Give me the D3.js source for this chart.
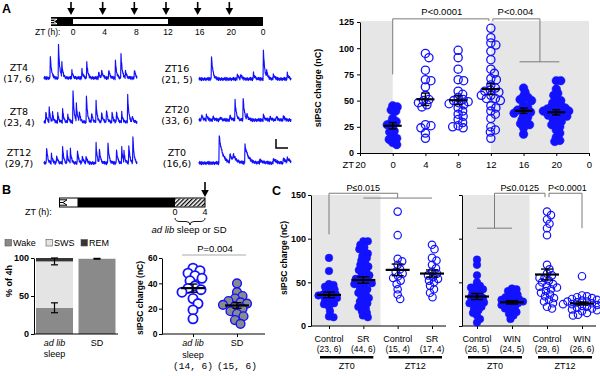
<!DOCTYPE html>
<html lang="en">
<head>
<meta charset="UTF-8">
<title>sIPSC charge across the day</title>
<script src="https://d3js.org/d3.v7.min.js"></script>
<style>
  body { margin: 0; background: #fff; }
  svg { display: block; font-family: "Liberation Sans", Arial, sans-serif; }
  .trace { fill: none; stroke: #1010ff; stroke-width: 1.15px; stroke-linejoin: round; }
  .bracket { fill: none; stroke: #7a7a7a; stroke-width: 1px; }
</style>
</head>
<body>
<svg id="fig" width="600" height="376"></svg>
<script>
// ---------------- data ----------------
// light/dark bar of panel A
const dayTicks = [0, 4, 8, 12, 16, 20, 24];
const dayTickLabels = ["0", "4", "8", "12", "16", "20", "0"];
const recHours = [0, 4, 8, 12, 16, 20];

// example traces: events as [time (0-100), amplitude], decay constant per trace
const traceNames = ["ZT4", "ZT8", "ZT12", "ZT16", "ZT20", "ZT0"];
const traceN = ["(17, 6)", "(23, 4)", "(29,7)", "(21, 5)", "(33, 6)", "(16,6)"];
const traceTau = [1.3, 1.2, 1.2, 1.5, 1.5, 3.5];
const traceEvents = [
  [[6.5,28],[15.5,35],[19,15],[30,7],[40.6,10],[46,15],[58.6,7],[62,8],[69.4,10],[76.6,20],[82.7,25],[87.4,8],[97,10]],
  [[1.8,12],[5.5,15],[9,10],[14.5,11],[20,13],[25.5,8],[31,37],[34.5,22],[38,10],[45.5,28],[51,11],[56,20],[62,10],[67,15],[73,11],[78,11],[83.6,9],[90,27],[94.5,8]],
  [[2.6,19],[8,9],[13.6,8],[20,16],[24.6,13],[28.3,14],[35.7,16],[41,9],[45,8],[56,19],[59.6,14],[68.8,21],[78,14],[83.5,16],[86,10],[91,21],[95.6,26]],
  [[13.5,25],[41.5,5],[45,5],[59,7],[70,28],[73.5,6],[80.7,5],[96,6]],
  [[2.5,7],[8,5],[15,4],[22.5,4],[33.5,5],[39,22],[48,22],[52,5],[70,5],[77,4],[84,4],[91.6,4]],
  [[21.8,29],[33.5,8],[37,6],[49.8,19],[66,3],[80.7,4],[91.6,4],[96,4]]
];
const traceNoise = [0.9,-0.6,1.2,-1.0,0.3,-0.4,1.1,-1.3,0.5,-0.2,0.8,-0.9,0.1,-1.1,0.7,-0.3,1.0,-0.7,0.4,-1.2,0.6,-0.5,0.2];

// panel A scatter
const ztAxisTicks = [-4, 0, 4, 8, 12, 16, 20, 24];
const ztAxisLabels = ["20", "0", "4", "8", "12", "16", "20", "0"];
const groupHoursA = [0, 4, 8, 12, 16, 20];
const filledA = [true, false, false, false, true, true];
const valuesA = [
  [45,44,41,40,33,30,29,27,25,21,20,16,14,13,10,8],
  [95,91,79,70,69,63,55,51,50,48,46,27,26,24,19,14,44],
  [98,91,80,70,69,59,56,53,51,50,49,48,47,46,43,40,37,35,32,29,26,24,25],
  [119,110,105,103,97,89,80,76,71,70,60,58,55,52,65,62,59,55,52,50,45,43,40,37,33,25,22,14,20],
  [62,58,54,53,51,50,46,44,42,41,40,39,38,36,34,32,30,28,27,24,18],
  [69,69,61,57,55,51,50,48,46,45,44,43,42,42,41,40,40,39,38,37,36,35,33,32,30,28,27,25,22,19,15,12,11]
];

// panel B
const sleepKeys = ["Wake", "SWS", "REM"];
const sleepGroups = ["ad lib", "SD"];
const wakePct = [34.5, 99];
const swsPct = [61, 1];
const remPct = [4.5, 0];
const wakeErr = [6.5, 0.5];
const sleepTopErr = [4.5, 0];
const adLibVals = [52,50,48,46,44,42,38,36,35,33,28,24,19,12];
const sdVals = [40,33,30,28,26,25,24,23,22,20,18,16,14,11,8];
const bNLabels = ["(14, 6)", "(15, 6)"];

// panel C
const cTimes = ["ZT0", "ZT12"];
const cLeftCats = ["Control", "SR", "Control", "SR"];
const cLeftN = ["(23, 6)", "(44, 6)", "(15, 4)", "(17, 4)"];
const cLeftFilled = [true, true, false, false];
const cLeftValues = [
  [78,63,48,47,45,43,42,40,38,37,36,35,34,33,32,30,28,26,25,22,17,11,10],
  [97,97,93,90,88,85,83,80,78,75,72,70,68,66,64,62,60,58,56,55,54,52,51,50,49,48,46,44,42,40,38,36,34,32,30,28,26,24,22,20,17,15,12,10],
  [131,104,77,74,70,65,62,60,57,55,52,48,42,36,31],
  [93,88,78,75,70,66,62,60,58,56,54,52,50,46,42,38,33]
];
const cRightCats = ["Control", "WIN", "Control", "WIN"];
const cRightN = ["(26, 5)", "(24, 5)", "(29, 6)", "(26, 6)"];
const cRightFilled = [true, true, false, false];
const cRightValues = [
  [76,70,58,50,46,44,45,42,40,38,36,34,33,32,30,28,27,26,24,22,20,18,15,12,8,4],
  [43,42,40,38,36,34,33,32,31,30,29,28,27,26,25,24,23,22,20,18,16,14,12,8],
  [131,127,122,117,112,104,70,65,60,55,58,55,52,50,48,46,45,44,42,40,38,36,34,32,30,28,26,22,20],
  [57,35,34,33,32,31,30,29,28,28,27,27,26,25,25,24,23,22,21,20,19,18,17,15,13,12]
];

// ---------------- helpers ----------------
const svg = d3.select("#fig");
const BLUE = "#1212ff";
const GRAY_BG = "#e6e6e6";

function txt(g, x, y, s, o = {}) {
  const t = g.append("text").attr("x", x).attr("y", y).text(s)
    .attr("font-size", o.size || 9)
    .attr("text-anchor", o.anchor || "middle");
  if (o.weight) t.attr("font-weight", o.weight);
  if (o.family) t.attr("font-family", o.family);
  if (o.style) t.attr("font-style", o.style);
  return t;
}

function vTitle(g, x, y, s, size) {
  g.append("text").attr("transform", `translate(${x},${y}) rotate(-90)`)
    .attr("text-anchor", "middle").attr("font-size", size).attr("font-weight", "bold").text(s);
}

function styleAxis(g, size, weight) {
  g.attr("font-family", null).attr("font-size", size).attr("font-weight", weight || null);
  g.selectAll("line, path").attr("stroke", "#000");
}

// simple beeswarm: returns x offsets
function swarm(vals, y, dist) {
  const order = d3.range(vals.length).sort((a, b) => vals[b] - vals[a]);
  const placed = [], xs = [];
  order.forEach(i => {
    const yi = y(vals[i]);
    let off = 0;
    for (let k = 0; k < 400; k++) {
      const c = (k % 2 ? 1 : -1) * Math.ceil(k / 2) * 0.5;
      if (placed.every(p => (p.x - c) ** 2 + (p.y - yi) ** 2 >= dist * dist)) { off = c; break; }
    }
    placed.push({x: off, y: yi});
    xs[i] = off;
  });
  return xs;
}

function dots(g, vals, cx, y, o) {
  const offs = swarm(vals, y, o.dist);
  g.append("g").selectAll("circle").data(vals).join("circle")
    .attr("cx", (d, i) => cx + offs[i]).attr("cy", d => y(d)).attr("r", o.r)
    .attr("fill", o.fill).attr("stroke", o.stroke).attr("stroke-width", o.sw);
}

function meanSem(g, vals, cx, y, half, cap) {
  const m = d3.mean(vals), s = d3.deviation(vals) / Math.sqrt(vals.length);
  const e = g.append("g").attr("stroke", "#000");
  e.append("line").attr("x1", cx).attr("x2", cx).attr("y1", y(m - s)).attr("y2", y(m + s)).attr("stroke-width", 1.4);
  [m - s, m + s].forEach(v => e.append("line").attr("x1", cx - cap).attr("x2", cx + cap)
    .attr("y1", y(v)).attr("y2", y(v)).attr("stroke-width", 1.4));
  e.append("line").attr("x1", cx - half).attr("x2", cx + half).attr("y1", y(m)).attr("y2", y(m)).attr("stroke-width", 2.2);
}

function arrow(g, x, y0, y1) {
  g.append("line").attr("x1", x).attr("x2", x).attr("y1", y0).attr("y2", y1 - 5).attr("stroke", "#000").attr("stroke-width", 1.6);
  g.append("path").attr("d", `M${x - 3.8},${y1 - 7}L${x + 3.8},${y1 - 7}L${x},${y1}Z`).attr("fill", "#000");
}

// panel letters
txt(svg, 2, 13, "A", {size: 12.5, weight: "bold", anchor: "start"});
txt(svg, 2, 194, "B", {size: 12.5, weight: "bold", anchor: "start"});
txt(svg, 272, 195, "C", {size: 12.5, weight: "bold", anchor: "start"});

// ---------------- panel A: light/dark bar ----------------
const xDay = d3.scaleLinear().domain([0, 24]).range([73, 263]);
const gBar = svg.append("g");
gBar.append("rect").attr("x", 51).attr("y", 17).attr("width", xDay(24) - 51).attr("height", 9).attr("fill", "#000");
gBar.append("rect").attr("x", xDay(0)).attr("y", 19).attr("width", xDay(12) - xDay(0)).attr("height", 5).attr("fill", "#fff");
gBar.append("path").attr("d", "M51,19.2H57L53.5,21.5L57,23.8H51M51,21.5H53.5").attr("fill", "none").attr("stroke", "#fff").attr("stroke-width", 1);
recHours.forEach(h => arrow(gBar, xDay(h) - 2, 2, 15));
dayTicks.forEach((h, i) => txt(gBar, xDay(h), 35, dayTickLabels[i], {size: 8.5}));
txt(gBar, 35, 35, "ZT (h):", {size: 8.5, anchor: "start"});

// ---------------- panel A: traces ----------------
const traceBase = [[78, 122, 163], [79, 120, 163]];
const tGrid = d3.range(0, 100.01, 0.4);
traceEvents.forEach((evs, i) => {
  const col = i < 3 ? 0 : 1, row = i % 3;
  const xT = d3.scaleLinear().domain([0, 100]).range(col ? [199, 291] : [44, 137]);
  const base = traceBase[col][row];
  const yT = d3.scaleLinear().domain([0, 40]).range([base, base - 40]);
  const pts = tGrid.map((t, k) => {
    let v = 1.3 * traceNoise[k % traceNoise.length];
    evs.forEach(([t0, a]) => { if (t >= t0) v += a * Math.exp(-(t - t0) / traceTau[i]); });
    return [t, v];
  });
  svg.append("path").attr("class", "trace")
    .attr("d", d3.line().x(d => xT(d[0])).y(d => yT(d[1]))(pts));
  const lx = col ? 177 : 19;
  txt(svg, lx, base - 7, traceNames[i], {size: 9.5, family: "DejaVu Sans, Verdana, sans-serif"});
  txt(svg, lx, base + 4, traceN[i], {size: 9.5, family: "DejaVu Sans, Verdana, sans-serif"});
});
// scale bar
svg.append("path").attr("d", "M276,139V148H288").attr("fill", "none").attr("stroke", "#000").attr("stroke-width", 1.5);

// ---------------- panel A: scatter ----------------
const xA = d3.scaleLinear().domain([-4, 24]).range([360, 589]);
const yA = d3.scaleLinear().domain([0, 125]).range([153, 22]);
const gA = svg.append("g");
[[-4, 0], [12, 24]].forEach(([a, b]) => gA.append("rect")
  .attr("x", xA(a)).attr("y", yA(126)).attr("width", xA(b) - xA(a)).attr("height", yA(0) - yA(126)).attr("fill", GRAY_BG));

gA.append("g").attr("transform", `translate(${xA(-4)},0)`)
  .call(d3.axisLeft(yA).tickValues([0, 25, 50, 75, 100, 125]).tickSize(3).tickPadding(3).tickSizeOuter(0))
  .call(g => styleAxis(g, 9, "bold"));
gA.append("g").attr("transform", `translate(0,${yA(0)})`)
  .call(d3.axisBottom(xA).tickValues(ztAxisTicks).tickFormat((d, i) => ztAxisLabels[i]).tickSize(3).tickPadding(5).tickSizeOuter(0))
  .call(g => styleAxis(g, 9.5));
txt(gA, xA(-4) - 6, 168, "ZT", {size: 9.5, anchor: "end"});
vTitle(gA, 321, 88, "sIPSC charge (nC)", 9);

// brackets
gA.append("path").attr("class", "bracket")
  .attr("d", `M${xA(0)},${yA(75)}V${yA(128)}H${xA(12) - 2}V${yA(126)}`);
gA.append("path").attr("class", "bracket")
  .attr("d", `M${xA(12) + 2},${yA(126)}V${yA(128)}H${xA(18)}V${yA(87)}M${xA(16) - 4},${yA(87)}H${xA(20) + 3}`);
txt(gA, (xA(0) + xA(12)) / 2, 15, "P<0.0001", {size: 9.5});
txt(gA, (xA(12) + xA(18)) / 2, 15, "P<0.004", {size: 9.5});

valuesA.forEach((vals, i) => {
  dots(gA, vals, xA(groupHoursA[i]), yA, filledA[i]
    ? {r: 4.3, dist: 4.4, fill: BLUE, stroke: BLUE, sw: 0.5}
    : {r: 4.1, dist: 5.2, fill: "none", stroke: BLUE, sw: 1.3});
});
valuesA.forEach((vals, i) => meanSem(gA, vals, xA(groupHoursA[i]), yA, 9, 4));

// ---------------- panel B: bar + timeline ----------------
const xDayB = d3.scaleLinear().domain([0, 4]).range([175, 205]);
const gBt = svg.append("g");
const defs = svg.append("defs");
defs.append("pattern").attr("id", "hatch").attr("width", 3).attr("height", 3)
  .attr("patternUnits", "userSpaceOnUse").attr("patternTransform", "rotate(45)")
  .append("rect").attr("width", 1.3).attr("height", 3).attr("fill", "#000");
gBt.append("rect").attr("x", xDayB(-15.4)).attr("y", 198).attr("width", xDayB(4) - xDayB(-15.4)).attr("height", 9)
  .attr("fill", "#fff").attr("stroke", "#000").attr("stroke-width", 1);
gBt.append("rect").attr("x", xDayB(-13)).attr("y", 198).attr("width", xDayB(0) - xDayB(-13)).attr("height", 9).attr("fill", "#000");
gBt.append("rect").attr("x", xDayB(0)).attr("y", 198.5).attr("width", xDayB(4) - xDayB(0)).attr("height", 8).attr("fill", "url(#hatch)");
gBt.append("path").attr("d", "M59,199.8H67L63,202.5L67,205.2H59M59,202.5H63").attr("fill", "none").attr("stroke", "#000").attr("stroke-width", 1);
arrow(gBt, xDayB(4), 182, 197);
txt(gBt, 25, 215, "ZT (h):", {size: 9, anchor: "start"});
[0, 4].forEach(h => txt(gBt, xDayB(h), 215, String(h), {size: 9}));
gBt.append("path").attr("fill", "none").attr("stroke", "#000").attr("stroke-width", 0.9)
  .attr("d", `M${xDayB(0)},218Q${xDayB(0)},221.5 ${xDayB(0) + 5},221.5H${xDayB(2) - 4}Q${xDayB(2)},221.5 ${xDayB(2)},225Q${xDayB(2)},221.5 ${xDayB(2) + 4},221.5H${xDayB(4) - 5}Q${xDayB(4)},221.5 ${xDayB(4)},218`);
const cap = gBt.append("text").attr("x", 189).attr("y", 233).attr("text-anchor", "middle").attr("font-size", 9.5);
cap.append("tspan").attr("font-style", "italic").text("ad lib");
cap.append("tspan").text(" sleep or SD");

// ---------------- panel B: stacked bars ----------------
const gB1 = svg.append("g");
const xB1 = d3.scalePoint().domain(sleepGroups).range([54.5, 97]);
const yB1 = d3.scaleLinear().domain([0, 100]).range([334, 258]);
const sleepColor = d3.scaleOrdinal().domain(sleepKeys).range(["#8a8a8a", "#e4e4e4", "#353535"]);
const sleepRows = sleepGroups.map((g, i) => ({group: g, Wake: wakePct[i], SWS: swsPct[i], REM: remPct[i]}));
const stack = d3.stack().keys(sleepKeys)(sleepRows);
stack.forEach(layer => {
  gB1.append("g").attr("fill", sleepColor(layer.key)).selectAll("rect").data(layer).join("rect")
    .attr("x", d => xB1(d.data.group) - 18.5).attr("width", 37)
    .attr("y", d => yB1(d[1])).attr("height", d => yB1(d[0]) - yB1(d[1]));
});
sleepGroups.forEach((g, i) => {
  const cx = xB1(g);
  [[wakePct[i], wakeErr[i]], [wakePct[i] + swsPct[i], sleepTopErr[i]]].forEach(([v, e]) => {
    if (e <= 0) return;
    const eb = gB1.append("g").attr("stroke", "#000").attr("stroke-width", 1.2);
    eb.append("line").attr("x1", cx).attr("x2", cx).attr("y1", yB1(v - e)).attr("y2", yB1(v + e));
    [v - e, v + e].forEach(w => eb.append("line").attr("x1", cx - 3.5).attr("x2", cx + 3.5).attr("y1", yB1(w)).attr("y2", yB1(w)));
  });
});
gB1.append("g").attr("transform", "translate(34,0)")
  .call(d3.axisLeft(yB1).tickValues([0, 50, 100]).tickSize(3).tickPadding(2).tickSizeOuter(0))
  .call(g => styleAxis(g, 9, "bold"));
gB1.append("line").attr("x1", 34).attr("x2", 118).attr("y1", 334).attr("y2", 334).attr("stroke", "#000");
vTitle(gB1, 12, 281, "% of 4h", 9);
txt(gB1, xB1("ad lib"), 346, "ad lib", {size: 9, style: "italic"});
txt(gB1, xB1("ad lib"), 357, "sleep", {size: 9});
txt(gB1, xB1("SD"), 346, "SD", {size: 9});
// legend
const legX = [5, 46, 81];
sleepKeys.forEach((k, i) => {
  gB1.append("rect").attr("x", legX[i]).attr("y", 239.5).attr("width", 6.5).attr("height", 6.5)
    .attr("fill", sleepColor(k)).attr("stroke", "#555").attr("stroke-width", 0.6);
  txt(gB1, legX[i] + 8, 246, k, {size: 9, anchor: "start"});
});

// ---------------- panel B: scatter ----------------
const gB2 = svg.append("g");
const xB2 = d3.scalePoint().domain(sleepGroups).range([193, 237]);
const yB2 = d3.scaleLinear().domain([0, 60]).range([334, 258]);
gB2.append("g").attr("transform", "translate(162,0)")
  .call(d3.axisLeft(yB2).tickValues([0, 20, 40, 60]).tickSize(3).tickPadding(1.5).tickSizeOuter(0))
  .call(g => styleAxis(g, 8.5, "bold"));
gB2.append("g").attr("transform", "translate(0,334)")
  .call(d3.axisBottom(xB2).tickSize(3).tickFormat(""))
  .call(g => { g.select(".domain").remove(); styleAxis(g, 9); });
gB2.append("line").attr("x1", 162).attr("x2", 265).attr("y1", 334).attr("y2", 334).attr("stroke", "#000");
vTitle(gB2, 143, 298, "sIPSC charge (nC)", 8.5);
dots(gB2, adLibVals, xB2("ad lib"), yB2, {r: 4.6, dist: 7.0, fill: "#fff", stroke: BLUE, sw: 1.8});
dots(gB2, sdVals, xB2("SD"), yB2, {r: 4.4, dist: 6.6, fill: "#8a8a8a", stroke: BLUE, sw: 1.4});
meanSem(gB2, adLibVals, xB2("ad lib"), yB2, 12, 4.5);
meanSem(gB2, sdVals, xB2("SD"), yB2, 12, 4.5);
gB2.append("line").attr("x1", 182).attr("x2", 246).attr("y1", 255).attr("y2", 255).attr("stroke", "#aaa").attr("stroke-width", 1);
txt(gB2, 215, 252, "P=0.004", {size: 9.5});
txt(gB2, xB2("ad lib"), 346, "ad lib", {size: 9, style: "italic"});
txt(gB2, xB2("ad lib"), 357.5, "sleep", {size: 9});
txt(gB2, xB2("SD"), 346, "SD", {size: 9});
sleepGroups.forEach((g, i) => txt(gB2, xB2(g), 368.5, bNLabels[i], {size: 9.5, family: "Liberation Mono, Courier New, monospace"}));

// ---------------- panel C ----------------
const yC = d3.scaleLinear().domain([0, 150]).range([326, 195]);
const gC = svg.append("g");
vTitle(gC, 287, 258, "sIPSC charge (nC)", 8.5);

function cPanel(x0, x1, xs, cats, nLabs, values, filled, showLabels) {
  const xC = d3.scalePoint().domain(d3.range(cats.length)).range(xs);
  const mid = (xC(1) + xC(2)) / 2;
  gC.append("rect").attr("x", x0).attr("y", yC(150)).attr("width", mid - x0).attr("height", yC(0) - yC(150)).attr("fill", GRAY_BG);
  gC.append("g").attr("transform", `translate(${x0},0)`)
    .call(d3.axisLeft(yC).tickValues([0, 50, 100, 150]).tickSize(3).tickPadding(2).tickSizeOuter(0)
      .tickFormat(showLabels ? d3.format("d") : ""))
    .call(g => styleAxis(g, 9, "bold"));
  gC.append("g").attr("transform", `translate(0,${yC(0)})`)
    .call(d3.axisBottom(xC).tickSize(3).tickFormat(""))
    .call(g => { g.select(".domain").remove(); styleAxis(g, 9); });
  gC.append("line").attr("x1", x0).attr("x2", x1).attr("y1", yC(0)).attr("y2", yC(0)).attr("stroke", "#000");
  values.forEach((vals, i) => dots(gC, vals, xC(i), yC, filled[i]
    ? {r: 3.8, dist: 4.4, fill: BLUE, stroke: BLUE, sw: 0.5}
    : {r: 3.7, dist: 5.0, fill: "none", stroke: BLUE, sw: 1.2}));
  values.forEach((vals, i) => meanSem(gC, vals, xC(i), yC, 12, 6));
  cats.forEach((c, i) => {
    txt(gC, xC(i), 341.5, c, {size: 9});
    txt(gC, xC(i), 352, nLabs[i], {size: 8.5});
  });
  cTimes.forEach((t, j) => {
    const a = xC(2 * j) - 9, b = xC(2 * j + 1) + 10;
    gC.append("line").attr("x1", a).attr("x2", b).attr("y1", 357.3).attr("y2", 357.3).attr("stroke", "#000").attr("stroke-width", 2.5);
    txt(gC, (a + b) / 2, 369, t, {size: 9});
  });
  return xC;
}

const xCL = cPanel(311, 446, [329, 432], cLeftCats, cLeftN, cLeftValues, cLeftFilled, true);
const xCR = cPanel(462, 596, [477, 582], cRightCats, cRightN, cRightValues, cRightFilled, false);

// C brackets
gC.append("path").attr("class", "bracket")
  .attr("d", `M${xCL(0)},${yC(105)}V${yC(152)}H${xCL(2)}V${yC(146.5)}M${xCL(1)},${yC(146.5)}H${xCL(3)}`);
txt(gC, (xCL(0) + xCL(2)) / 2, 191, "P\u22640.015", {size: 9});
const midR = (xCR(0) + xCR(1)) / 2;
gC.append("path").attr("class", "bracket")
  .attr("d", `M${xCR(0)},${yC(112)}H${xCR(1)}M${midR},${yC(112)}V${yC(152)}H${xCR(2) - 2}V${yC(147.5)}`);
gC.append("path").attr("class", "bracket")
  .attr("d", `M${xCR(2) + 2},${yC(147.5)}V${yC(152)}H${xCR(3)}V${yC(112)}`);
txt(gC, (midR + xCR(2) - 2) / 2, 191, "P\u22640.0125", {size: 9});
txt(gC, (xCR(2) + 2 + xCR(3)) / 2 + 2, 191, "P<0.0001", {size: 9});
</script>
</body>
</html>
